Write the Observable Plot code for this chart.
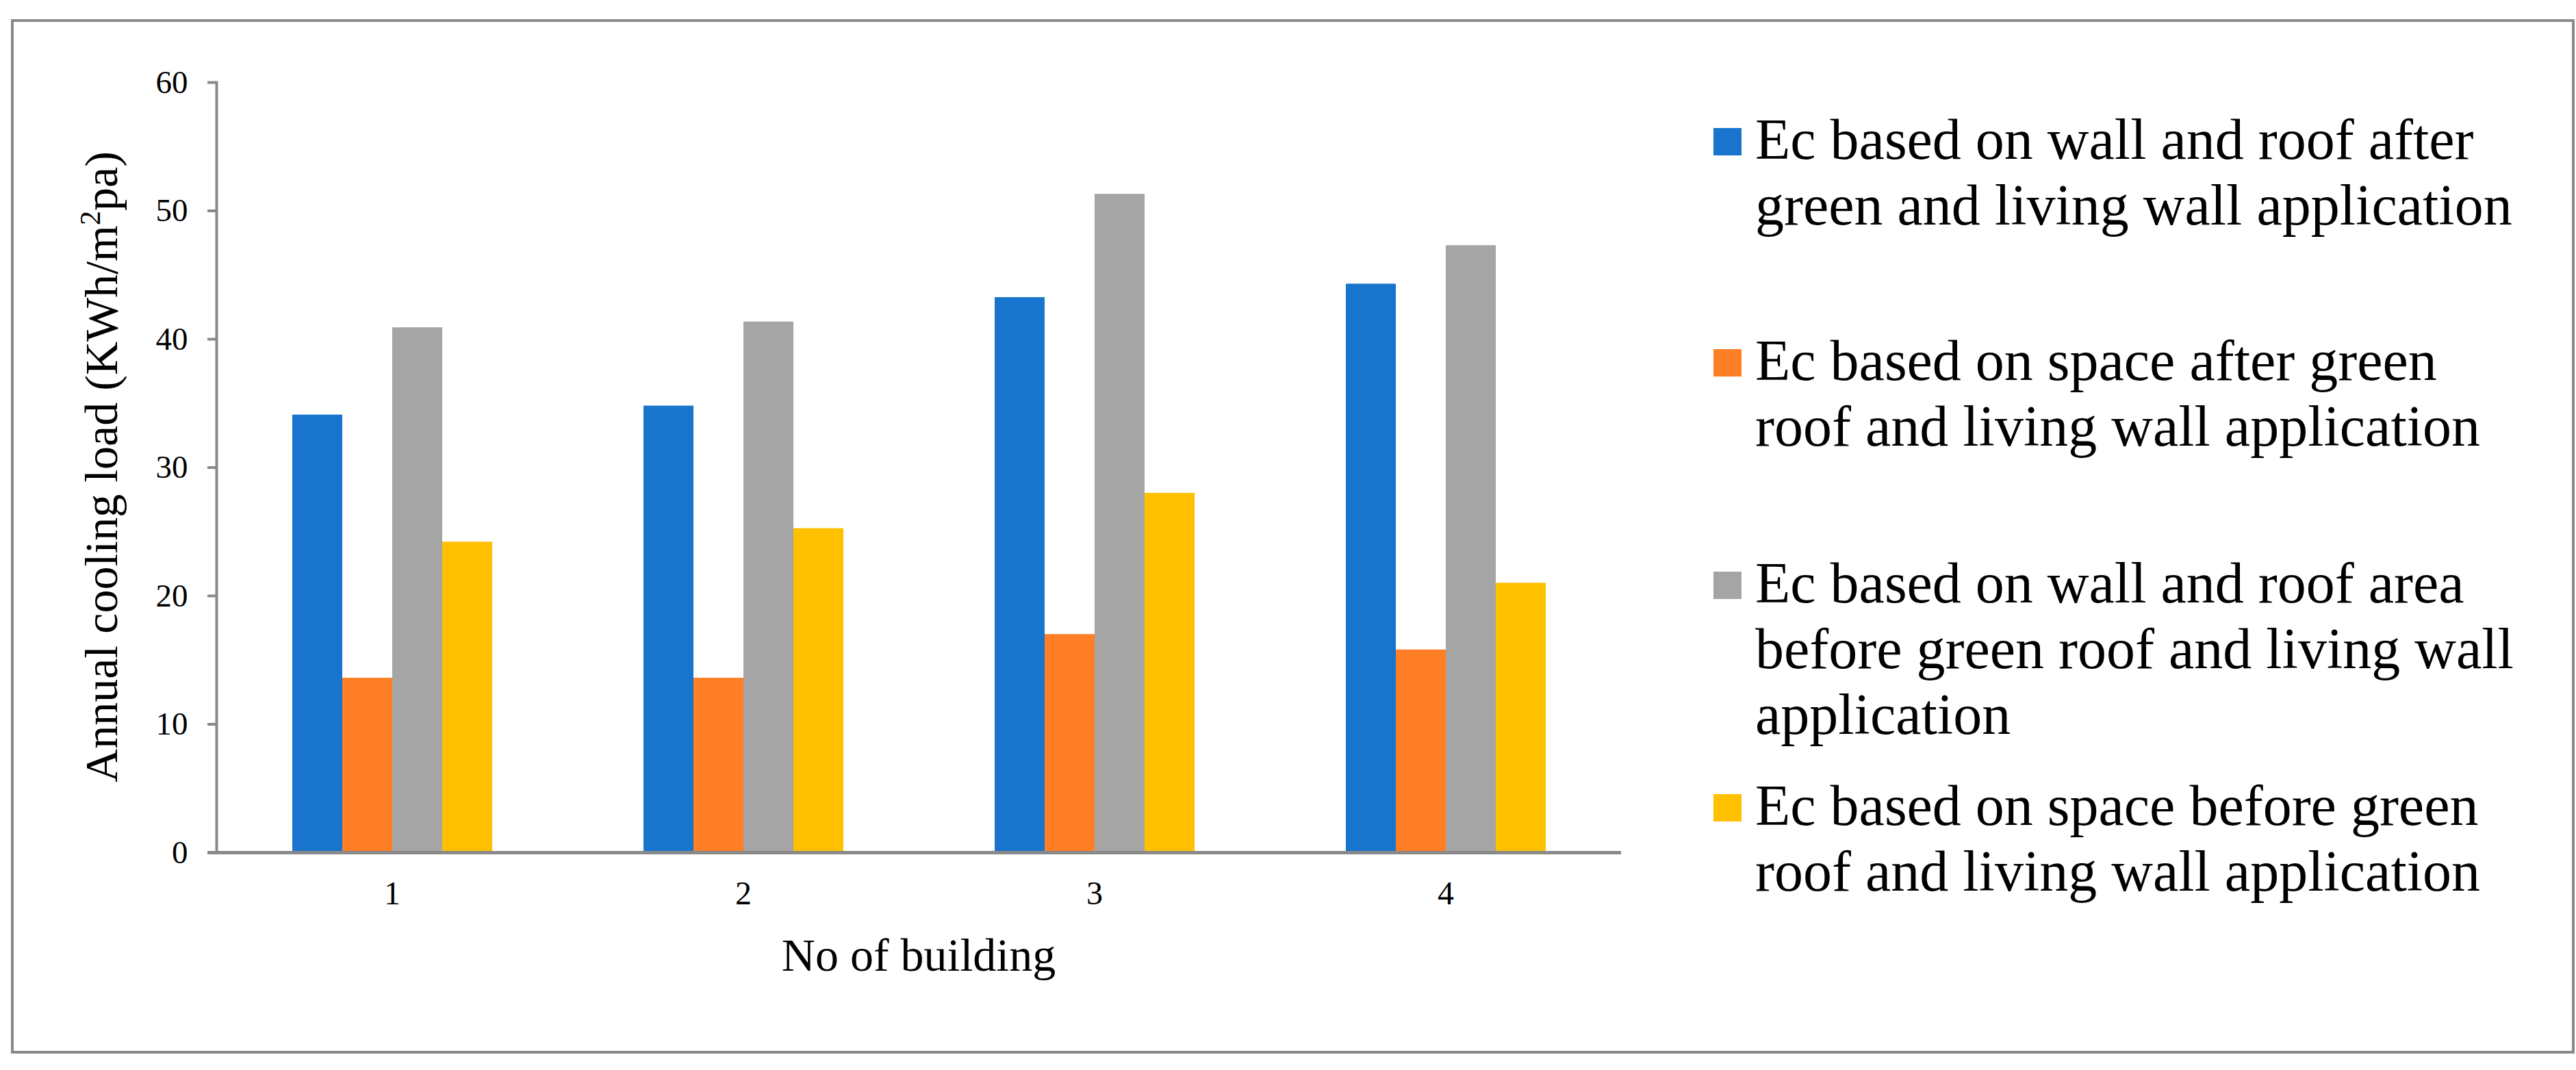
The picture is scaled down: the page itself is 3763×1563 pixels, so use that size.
<!DOCTYPE html>
<html>
<head>
<meta charset="utf-8">
<script src="https://cdn.jsdelivr.net/npm/d3@7"></script>
<script src="https://cdn.jsdelivr.net/npm/@observablehq/plot@0.6"></script>
<style>
  html, body { margin: 0; padding: 0; background: #fff; }
  body { width: 3763px; height: 1563px; position: relative; overflow: hidden; font-family: "Liberation Serif", "Times New Roman", serif; color: #000; }
  #border { position: absolute; left: 16px; top: 28px; width: 3745px; height: 1511px; border: 4px solid #898989; box-sizing: border-box; }
  #chart { position: absolute; left: 0; top: 0; }
  #ytitle { position: absolute; left: 148px; top: 682px; transform: translate(-50%, -50%) rotate(-90deg); white-space: nowrap; font-size: 68px; line-height: 1; }
  #ytitle sup { font-size: 0.62em; line-height: 0; vertical-align: 0.6em; }
  #xtitle { position: absolute; left: 1342px; top: 1361px; transform: translateX(-50%); white-space: nowrap; font-size: 68px; line-height: 1; }
  .sw { position: absolute; left: 2503px; width: 41px; height: 40px; }
  .lt { position: absolute; left: 2564px; width: 1140px; font-size: 84px; line-height: 96px; }
</style>
</head>
<body>
<div id="border"></div>
<div id="chart"></div>
<div id="ytitle">Annual cooling load (KWh/m<sup>2</sup>pa)</div>
<div id="xtitle">No of building</div>
<div id="legend"></div>
<script>
const buildings = [1, 2, 3, 4];
const series = [
  "Ec based on wall and roof after green and living wall application",
  "Ec based on space after green roof and living wall application",
  "Ec based on wall and roof area before green roof and living wall application",
  "Ec based on space before green roof and living wall application"
];
const colors = ["#1874CD", "#FF7F27", "#A5A5A5", "#FFC000"];
const wallRoofAfter   = [34.1, 34.8, 43.25, 44.3];
const spaceAfter      = [13.6, 13.6, 17.0, 15.8];
const wallRoofBefore  = [40.9, 41.35, 51.3, 47.3];
const spaceBefore     = [24.2, 25.25, 28.0, 21.0];
const yTicks = [0, 10, 20, 30, 40, 50, 60];

const seriesValues = [wallRoofAfter, spaceAfter, wallRoofBefore, spaceBefore];
const data = [];
buildings.forEach((b, i) => {
  series.forEach((s, j) => data.push({building: b, series: s, value: seriesValues[j][i]}));
});

const gray = "#898989";
const chart = Plot.plot({
  width: 2400,
  height: 1563,
  marginLeft: 315,
  marginRight: 31,
  marginTop: 120,
  marginBottom: 318,
  style: {fontFamily: "Liberation Serif, Times New Roman, serif", color: "#000", background: "transparent"},
  fx: {domain: buildings, padding: 0},
  x: {domain: series, paddingInner: 0, paddingOuter: 1.5, axis: null},
  y: {domain: [0, 60], axis: null},
  color: {domain: series, range: colors},
  marks: [
    Plot.barY(data, {fx: "building", x: "series", y: "value", fill: "series"}),
    Plot.axisY({ticks: yTicks, tickSize: 13, tickPadding: 29, fontSize: 47, stroke: gray, strokeWidth: 4, label: null}),
    Plot.frame({anchor: "left", facetAnchor: "left", stroke: gray, strokeWidth: 4}),
    Plot.ruleY([0], {stroke: gray, strokeWidth: 5}),
    Plot.ruleY([{b: 1, v: 0}], {fx: "b", y: "v", insetLeft: -13, stroke: gray, strokeWidth: 5}),
    Plot.axisFx({anchor: "bottom", tickSize: 0, tickPadding: 41, fontSize: 48, label: null})
  ]
});
document.getElementById("chart").appendChild(chart);

const legend = document.getElementById("legend");
const entryTops = [156, 479, 804, 1129];
series.forEach((s, j) => {
  const sw = document.createElement("div");
  sw.className = "sw";
  sw.style.top = (entryTops[j] + 31) + "px";
  sw.style.background = colors[j];
  legend.appendChild(sw);
  const t = document.createElement("div");
  t.className = "lt";
  t.style.top = entryTops[j] + "px";
  t.textContent = s;
  legend.appendChild(t);
});
</script>
</body>
</html>
